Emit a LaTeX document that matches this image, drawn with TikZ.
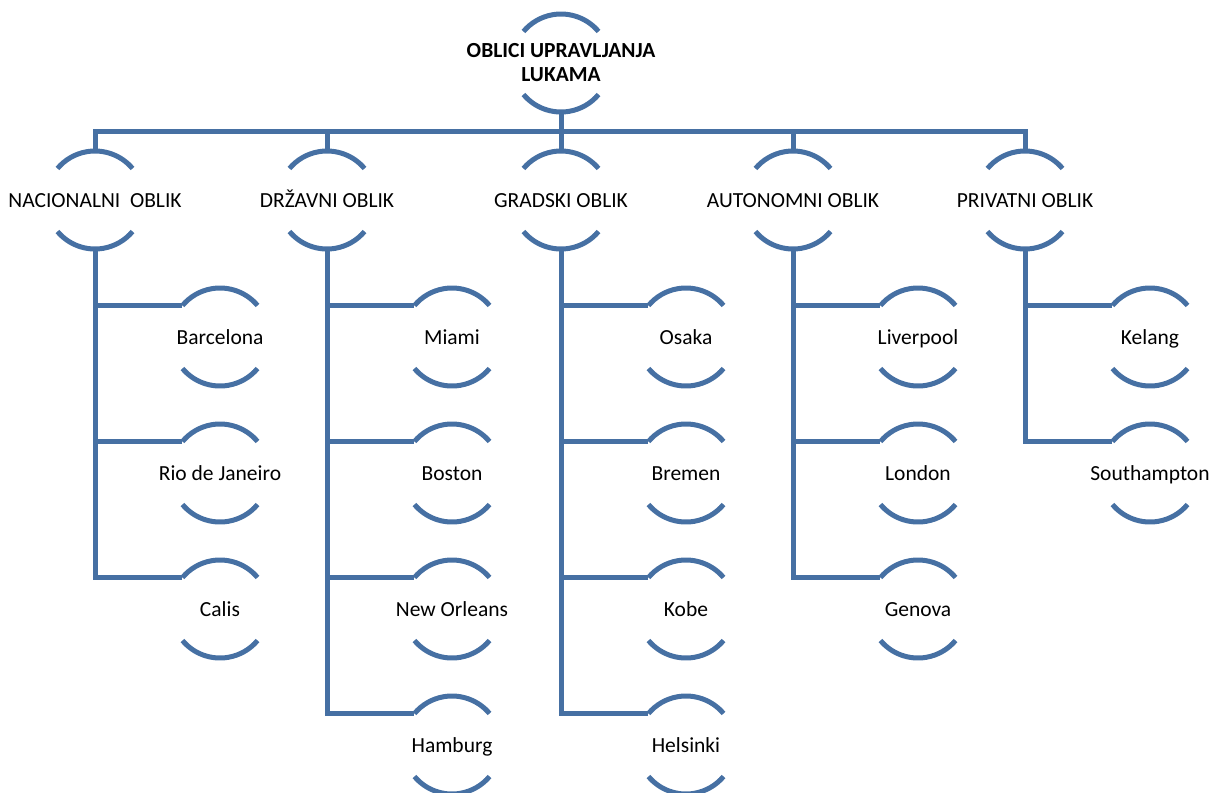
\documentclass[tikz,border=0pt]{standalone}
\usepackage{fontspec}
\setmainfont{Carlito}
\usetikzlibrary{calc}
\definecolor{lineblue}{RGB}{70,112,163}
\tikzset{
  circnode/.style={circle,minimum size=98pt,inner sep=0pt,outer sep=0pt},
  lbl/.style={font=\fontsize{21.5}{24}\selectfont,text=black,inner sep=0pt,text height=18pt,text depth=4pt},
  rootlbl/.style={font=\fontsize{21.5}{24}\selectfont\bfseries,text=black,inner sep=0pt,align=center},
  arcline/.style={draw=lineblue,line width=5pt},
  conn/.style={draw=lineblue,line width=5pt,line join=miter},
}
\newcommand{\twoarcs}[1]{%
  \draw[arcline] (#1.40) arc[start angle=40,end angle=140,radius=49pt];
  \draw[arcline] (#1.220) arc[start angle=220,end angle=320,radius=49pt];}
\begin{document}
\begin{tikzpicture}[x=1pt,y=1pt]
\useasboundingbox (0,0) rectangle (1211,-793);
% root
\node[circnode,label={[rootlbl]center:OBLICI UPRAVLJANJA\\LUKAMA}] (root) at (561,-63) {};
% level 1
\node[circnode,label={[lbl]center:NACIONALNI\ \ OBLIK}] (n1) at (95,-200) {};
\node[circnode,label={[lbl]center:DRŽAVNI OBLIK}] (n2) at (327,-200) {};
\node[circnode,label={[lbl]center:GRADSKI OBLIK}] (n3) at (561,-200) {};
\node[circnode,label={[lbl]center:AUTONOMNI OBLIK}] (n4) at (793,-200) {};
\node[circnode,label={[lbl]center:PRIVATNI OBLIK}] (n5) at (1025,-200) {};
% children
\node[circnode,label={[lbl]center:Barcelona}] (a1) at (220,-337) {};
\node[circnode,label={[lbl]center:Rio de Janeiro}] (a2) at (220,-473) {};
\node[circnode,label={[lbl]center:Calis}] (a3) at (220,-609) {};
\node[circnode,label={[lbl]center:Miami}] (b1) at (452,-337) {};
\node[circnode,label={[lbl]center:Boston}] (b2) at (452,-473) {};
\node[circnode,label={[lbl]center:New Orleans}] (b3) at (452,-609) {};
\node[circnode,label={[lbl]center:Hamburg}] (b4) at (452,-745) {};
\node[circnode,label={[lbl]center:Osaka}] (c1) at (686,-337) {};
\node[circnode,label={[lbl]center:Bremen}] (c2) at (686,-473) {};
\node[circnode,label={[lbl]center:Kobe}] (c3) at (686,-609) {};
\node[circnode,label={[lbl]center:Helsinki}] (c4) at (686,-745) {};
\node[circnode,label={[lbl]center:Liverpool}] (d1) at (918,-337) {};
\node[circnode,label={[lbl]center:London}] (d2) at (918,-473) {};
\node[circnode,label={[lbl]center:Genova}] (d3) at (918,-609) {};
\node[circnode,label={[lbl]center:Kelang}] (e1) at (1150,-337) {};
\node[circnode,label={[lbl]center:Southampton}] (e2) at (1150,-473) {};
\foreach \n in {root,n1,n2,n3,n4,n5,a1,a2,a3,b1,b2,b3,b4,c1,c2,c3,c4,d1,d2,d3,e1,e2}{\twoarcs{\n}}
% connectors
\coordinate (bar) at (0,-131);
\draw[conn] (root.south) -- (root.south |- bar);
\draw[conn] (n1.north) |- (n5.north |- bar) -- (n5.north);
\foreach \n in {n2,n3,n4}{\draw[conn] (\n.north) -- (\n.north |- bar);}
\draw[conn] (n1.south) |- (a1.140);
\draw[conn] (n1.south) |- (a2.140);
\draw[conn] (n1.south) |- (a3.140);
\draw[conn] (n2.south) |- (b1.140);
\draw[conn] (n2.south) |- (b2.140);
\draw[conn] (n2.south) |- (b3.140);
\draw[conn] (n2.south) |- (b4.140);
\draw[conn] (n3.south) |- (c1.140);
\draw[conn] (n3.south) |- (c2.140);
\draw[conn] (n3.south) |- (c3.140);
\draw[conn] (n3.south) |- (c4.140);
\draw[conn] (n4.south) |- (d1.140);
\draw[conn] (n4.south) |- (d2.140);
\draw[conn] (n4.south) |- (d3.140);
\draw[conn] (n5.south) |- (e1.140);
\draw[conn] (n5.south) |- (e2.140);
\end{tikzpicture}
\end{document}
